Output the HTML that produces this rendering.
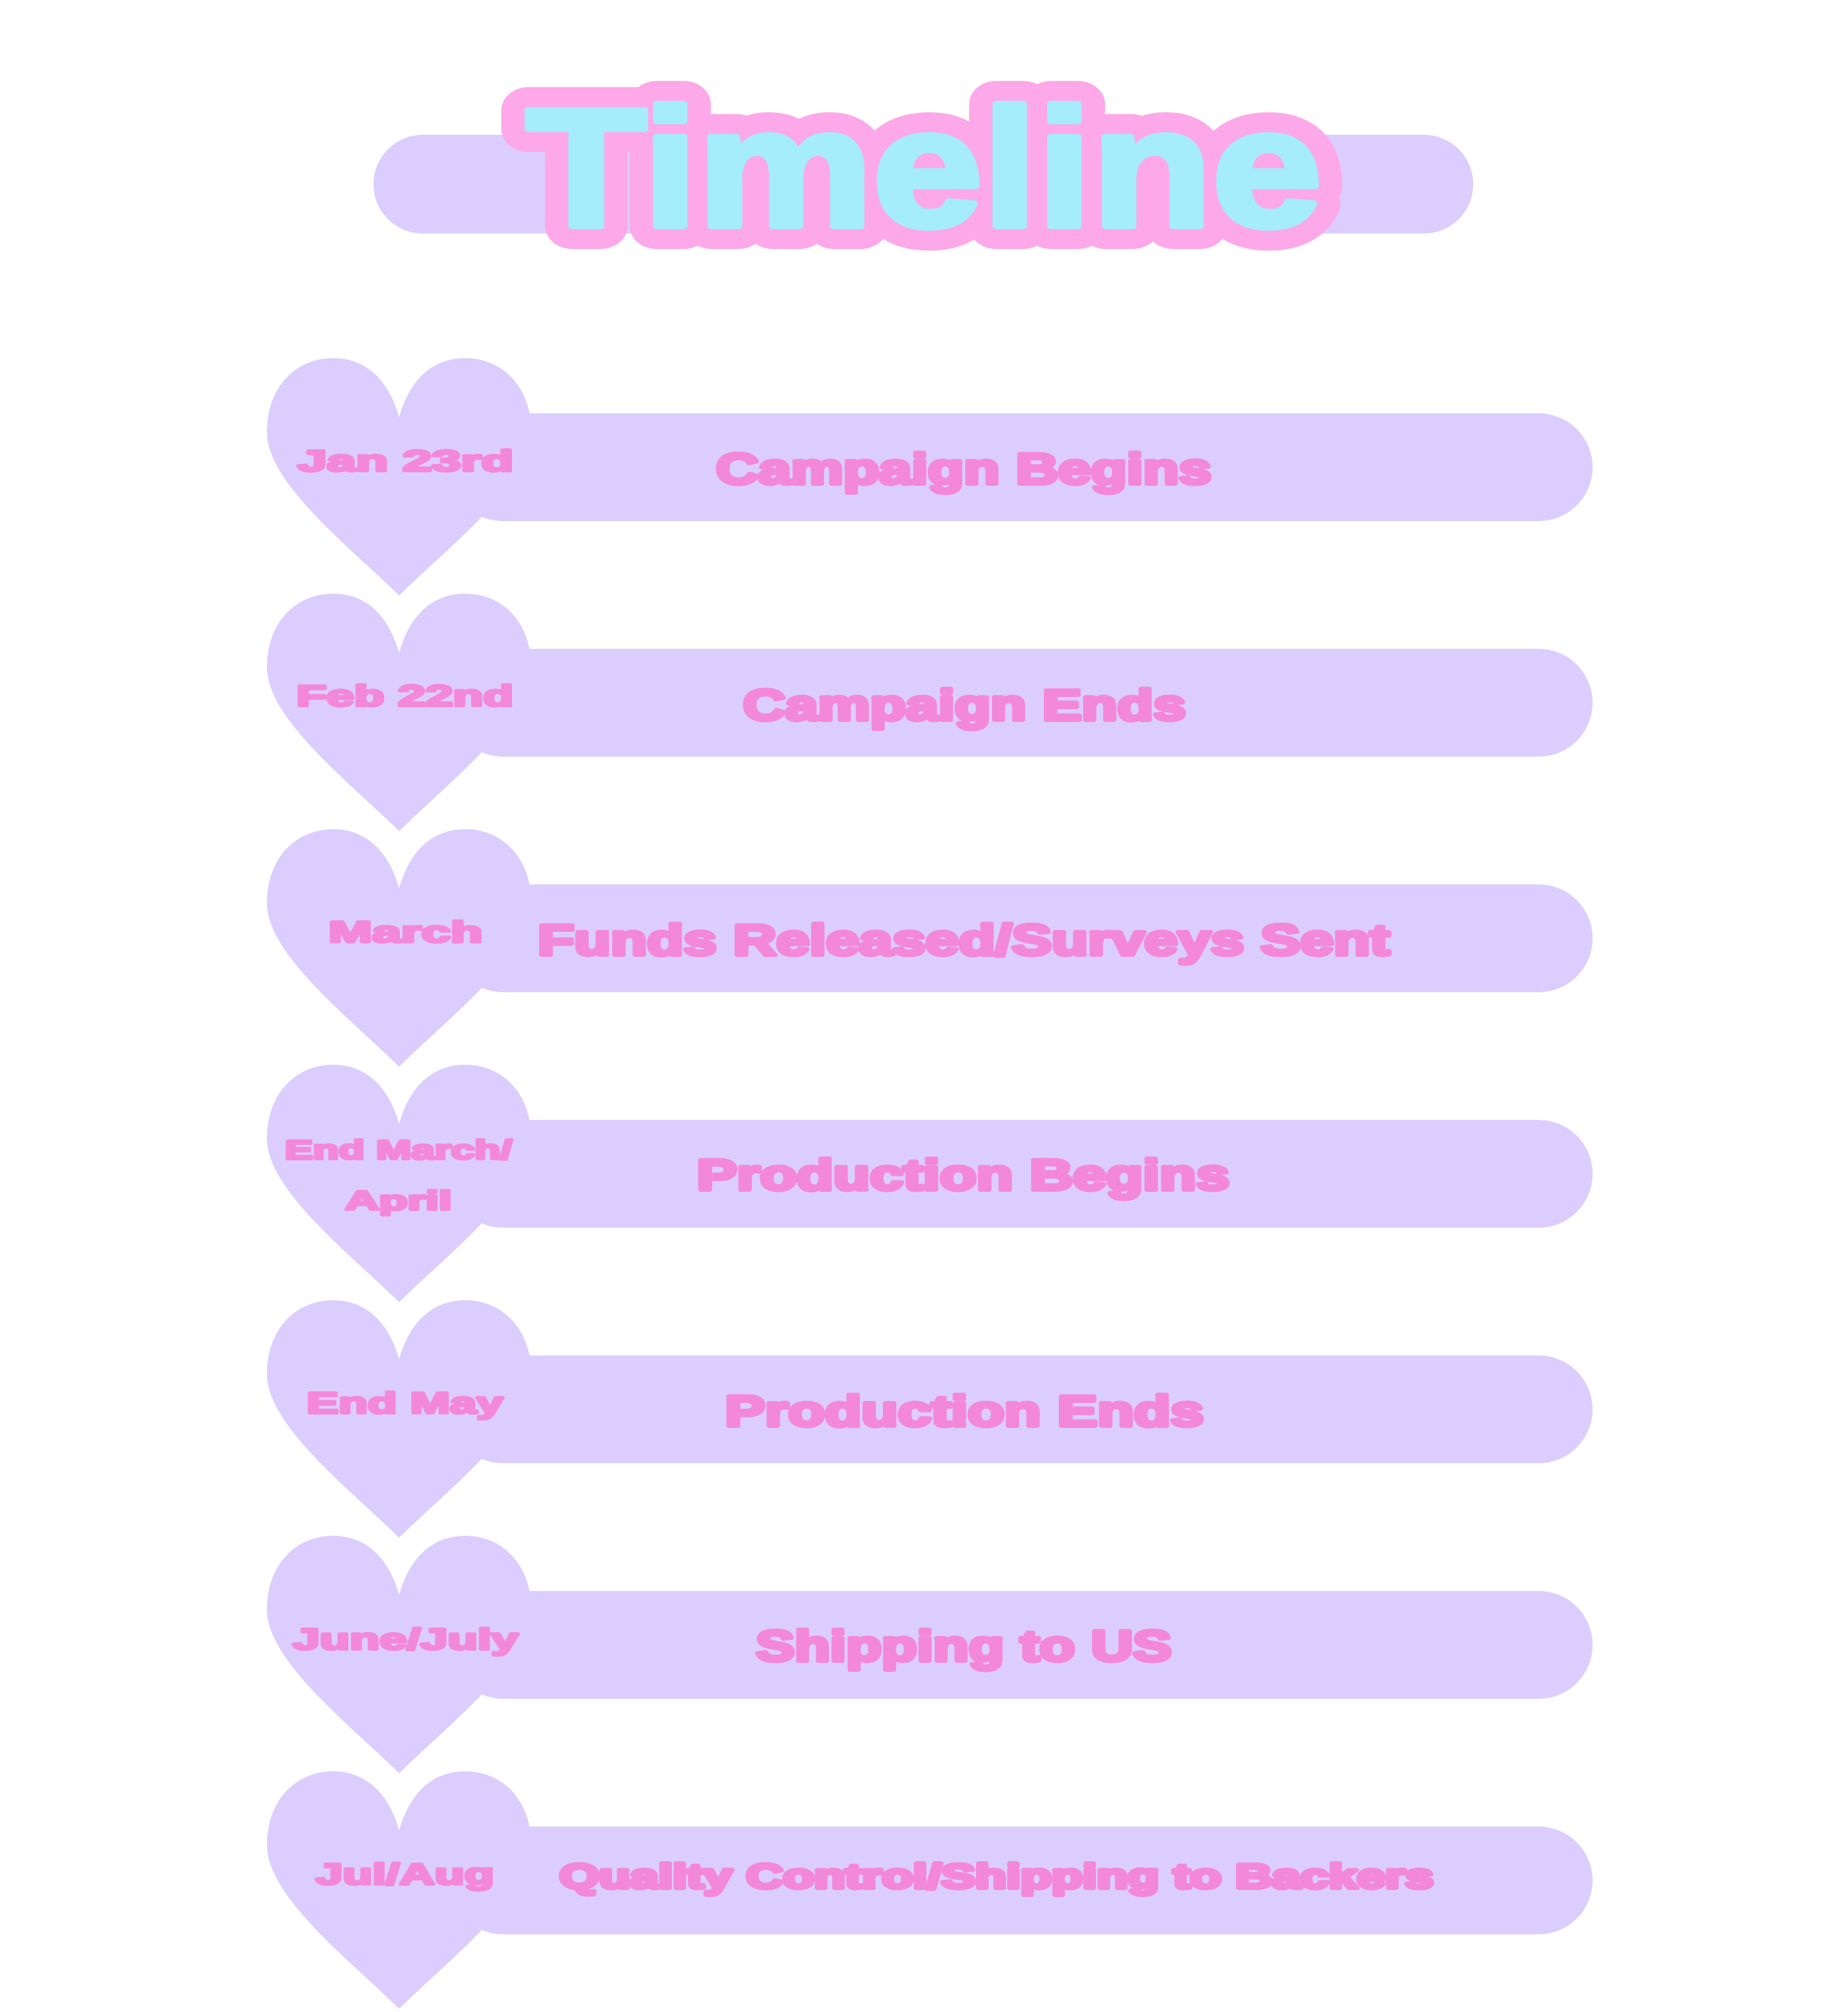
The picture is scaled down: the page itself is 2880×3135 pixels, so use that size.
<!DOCTYPE html>
<html><head><meta charset="utf-8"><style>html,body{margin:0;padding:0;background:#fff}svg{display:block}</style></head>
<body>
<svg width="2880" height="3135" viewBox="0 0 2880 3135" xmlns="http://www.w3.org/2000/svg">
<defs>
<path id="h" d="M206,370 C130,295 0,195 0,115 C0,45 45,0 103,0 C155,0 190,35 206,92 C222,35 257,0 309,0 C367,0 412,45 412,115 C412,195 282,295 206,370 Z"/>
</defs>
<rect x="582" y="210" width="1714" height="154" rx="77" fill="#dbcefe"/>
<text x="1440" y="352" text-anchor="middle" textLength="1240" lengthAdjust="spacingAndGlyphs" font-family="Liberation Sans, sans-serif" font-weight="bold" font-size="262" fill="#a5ecfd" stroke="#fda8e8" stroke-width="72" stroke-linejoin="round" paint-order="stroke">Timeline</text>
<text x="1440" y="352" text-anchor="middle" textLength="1240" lengthAdjust="spacingAndGlyphs" font-family="Liberation Sans, sans-serif" font-weight="bold" font-size="262" fill="#a5ecfd" stroke="#a5ecfd" stroke-width="10" stroke-linejoin="round">Timeline</text>
<g fill="#dbcefe">
<rect x="700" y="644" width="1782" height="168" rx="84"/><use href="#h" x="416" y="558"/>
<rect x="700" y="1011" width="1782" height="168" rx="84"/><use href="#h" x="416" y="925"/>
<rect x="700" y="1378" width="1782" height="168" rx="84"/><use href="#h" x="416" y="1292"/>
<rect x="700" y="1745" width="1782" height="168" rx="84"/><use href="#h" x="416" y="1659"/>
<rect x="700" y="2112" width="1782" height="168" rx="84"/><use href="#h" x="416" y="2026"/>
<rect x="700" y="2479" width="1782" height="168" rx="84"/><use href="#h" x="416" y="2393"/>
<rect x="700" y="2846" width="1782" height="168" rx="84"/><use href="#h" x="416" y="2760"/>
</g>
<g fill="#f488d8" stroke="#f488d8" stroke-linejoin="round" font-family="Liberation Sans, sans-serif" font-weight="bold">
<g stroke-width="4">
<text x="464" y="734" textLength="336" font-size="46" lengthAdjust="spacingAndGlyphs">Jan 23rd</text>
<text x="462" y="1100" textLength="338" font-size="46" lengthAdjust="spacingAndGlyphs">Feb 22nd</text>
<text x="512" y="1468" textLength="240" font-size="46" lengthAdjust="spacingAndGlyphs">March</text>
<text x="444" y="1806" textLength="354" font-size="42" lengthAdjust="spacingAndGlyphs">End March/</text>
<text x="538" y="1885" textLength="166" font-size="42" lengthAdjust="spacingAndGlyphs">April</text>
<text x="478" y="2202" textLength="306" font-size="46" lengthAdjust="spacingAndGlyphs">End May</text>
<text x="456" y="2570" textLength="352" font-size="46" lengthAdjust="spacingAndGlyphs">June/July</text>
<text x="492" y="2936" textLength="278" font-size="46" lengthAdjust="spacingAndGlyphs">Jul/Aug</text>
</g>
<g stroke-width="6">
<text x="1116" y="754" textLength="772" font-size="68" lengthAdjust="spacingAndGlyphs">Campaign Begins</text>
<text x="1158" y="1122" textLength="690" font-size="68" lengthAdjust="spacingAndGlyphs">Campaign Ends</text>
<text x="838" y="1488" textLength="1328" font-size="68" lengthAdjust="spacingAndGlyphs">Funds Released/Surveys Sent</text>
<text x="1086" y="1854" textLength="830" font-size="68" lengthAdjust="spacingAndGlyphs">Production Begins</text>
<text x="1130" y="2222" textLength="746" font-size="68" lengthAdjust="spacingAndGlyphs">Production Ends</text>
<text x="1178" y="2588" textLength="648" font-size="68" lengthAdjust="spacingAndGlyphs">Shipping to US</text>
<text x="872" y="2942" textLength="1362" font-size="54" lengthAdjust="spacingAndGlyphs">Quality Control/Shipping to Backers</text>
</g>
</g>
</svg>
</body></html>
